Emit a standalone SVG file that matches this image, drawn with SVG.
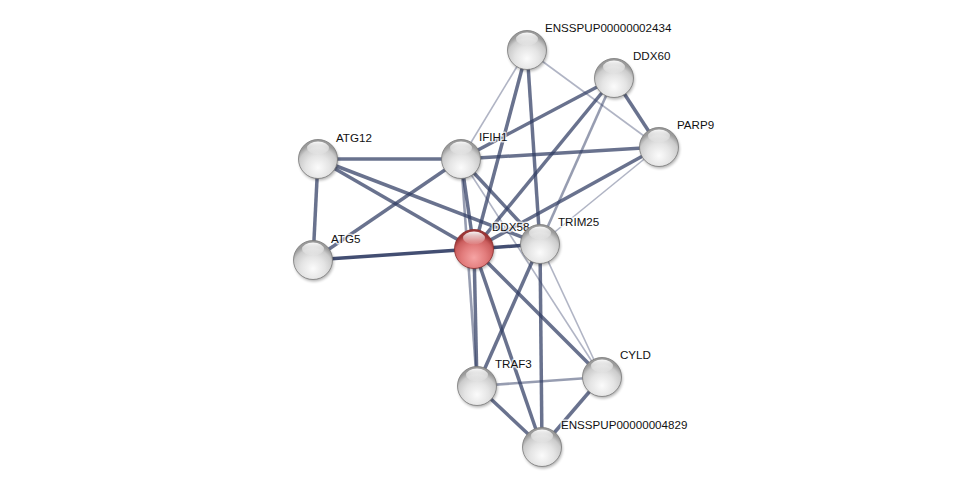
<svg xmlns="http://www.w3.org/2000/svg" width="976" height="492" viewBox="0 0 976 492">
<style>
.e{stroke:#2f3b63;fill:none;stroke-linecap:butt}
.s{stroke-width:3.5;stroke-opacity:0.9}
.t{stroke-width:3.5;stroke-opacity:0.72}
.m{stroke-width:2.6;stroke-opacity:0.5}
.l{stroke-width:1.6;stroke-opacity:0.38}
.lab{font-family:"Liberation Sans",Arial,sans-serif;font-size:11.6px;fill:#111;stroke:#fff;stroke-width:3;stroke-opacity:0.75;paint-order:stroke;stroke-linejoin:round}
.ball{stroke:#7a7a7a;stroke-width:0.8}
</style>
<defs>
<radialGradient id="gg" cx="0.5" cy="0.72" r="0.62">
<stop offset="0" stop-color="#fbfbfb"/>
<stop offset="0.5" stop-color="#e4e4e4"/>
<stop offset="0.82" stop-color="#cbcbcb"/>
<stop offset="1" stop-color="#9a9a9a"/>
</radialGradient>
<radialGradient id="gr" cx="0.5" cy="0.72" r="0.62">
<stop offset="0" stop-color="#f6a4a4"/>
<stop offset="0.5" stop-color="#e27c7c"/>
<stop offset="0.82" stop-color="#cb5e5e"/>
<stop offset="1" stop-color="#9c3535"/>
</radialGradient>
<linearGradient id="hl" x1="0" y1="0" x2="0" y2="1">
<stop offset="0" stop-color="#fff" stop-opacity="0.95"/>
<stop offset="1" stop-color="#fff" stop-opacity="0.05"/>
</linearGradient>
<filter id="sh" x="-50%" y="-50%" width="200%" height="200%">
<feGaussianBlur stdDeviation="1.5"/>
</filter>
<g id="ballG">
<circle cx="1" cy="2" r="19.5" fill="#000" opacity="0.3" filter="url(#sh)"/>
<circle r="19.5" fill="url(#gg)" class="ball"/>
<ellipse cx="0" cy="-11" rx="11" ry="6.5" fill="url(#hl)"/>
</g>
<g id="ballR">
<circle cx="1" cy="2" r="19.5" fill="#000" opacity="0.3" filter="url(#sh)"/>
<circle r="19.5" fill="url(#gr)" stroke="#8a2c2c" stroke-width="0.8"/>
<ellipse cx="0" cy="-11" rx="11" ry="6.5" fill="url(#hl)"/>
</g>
</defs>
<rect width="976" height="492" fill="#fff"/>
<g id="edges">
<line class="e l" x1="527" y1="50" x2="461" y2="159"/>
<line class="e t" x1="527" y1="50" x2="474" y2="249"/>
<line class="e t" x1="527" y1="50" x2="540" y2="244"/>
<line class="e l" x1="527" y1="50" x2="659" y2="147"/>
<line class="e t" x1="614" y1="78" x2="461" y2="159"/>
<line class="e t" x1="614" y1="78" x2="474" y2="249"/>
<line class="e m" x1="614" y1="78" x2="540" y2="244"/>
<line class="e t" x1="614" y1="78" x2="659" y2="147"/>
<line class="e t" x1="659" y1="147" x2="461" y2="159"/>
<line class="e t" x1="659" y1="147" x2="474" y2="249"/>
<line class="e l" x1="659" y1="147" x2="540" y2="244"/>
<line class="e t" x1="318" y1="159" x2="461" y2="159"/>
<line class="e t" x1="318" y1="159" x2="313" y2="260"/>
<line class="e t" x1="318" y1="159" x2="474" y2="249"/>
<line class="e t" x1="318" y1="159" x2="540" y2="244"/>
<line class="e t" x1="313" y1="260" x2="461" y2="159"/>
<line class="e s" x1="313" y1="260" x2="474" y2="249"/>
<line class="e t" x1="461" y1="159" x2="474" y2="249"/>
<line class="e m" x1="461" y1="159" x2="477" y2="386"/>
<line class="e t" x1="461" y1="159" x2="540" y2="244"/>
<line class="e l" x1="461" y1="159" x2="602" y2="377"/>
<line class="e s" x1="474" y1="249" x2="540" y2="244"/>
<line class="e t" x1="474" y1="249" x2="477" y2="386"/>
<line class="e t" x1="474" y1="249" x2="542" y2="447"/>
<line class="e t" x1="474" y1="249" x2="602" y2="377"/>
<line class="e t" x1="540" y1="244" x2="477" y2="386"/>
<line class="e t" x1="540" y1="244" x2="542" y2="447"/>
<line class="e l" x1="540" y1="244" x2="602" y2="377"/>
<line class="e m" x1="477" y1="386" x2="602" y2="377"/>
<line class="e t" x1="477" y1="386" x2="542" y2="447"/>
<line class="e t" x1="602" y1="377" x2="542" y2="447"/>
</g>
<g id="n-ENSSPUP00000002434"><use href="#ballG" x="527" y="50"/><text class="lab" x="545" y="32">ENSSPUP00000002434</text></g>
<g id="n-DDX60"><use href="#ballG" x="614" y="78"/><text class="lab" x="633" y="60">DDX60</text></g>
<g id="n-PARP9"><use href="#ballG" x="659" y="147"/><text class="lab" x="677" y="129">PARP9</text></g>
<g id="n-ATG12"><use href="#ballG" x="318" y="159"/><text class="lab" x="336" y="142">ATG12</text></g>
<g id="n-IFIH1"><use href="#ballG" x="461" y="159"/><text class="lab" x="479" y="141">IFIH1</text></g>
<g id="n-ATG5"><use href="#ballG" x="313" y="260"/><text class="lab" x="331" y="243">ATG5</text></g>
<g id="n-DDX58"><use href="#ballR" x="474" y="249"/><text class="lab" x="492" y="231">DDX58</text></g>
<g id="n-TRIM25"><use href="#ballG" x="540" y="244"/><text class="lab" x="558" y="226">TRIM25</text></g>
<g id="n-CYLD"><use href="#ballG" x="602" y="377"/><text class="lab" x="620" y="359">CYLD</text></g>
<g id="n-TRAF3"><use href="#ballG" x="477" y="386"/><text class="lab" x="495" y="368">TRAF3</text></g>
<g id="n-ENSSPUP00000004829"><use href="#ballG" x="542" y="447"/><text class="lab" x="561" y="429">ENSSPUP00000004829</text></g>
</svg>
